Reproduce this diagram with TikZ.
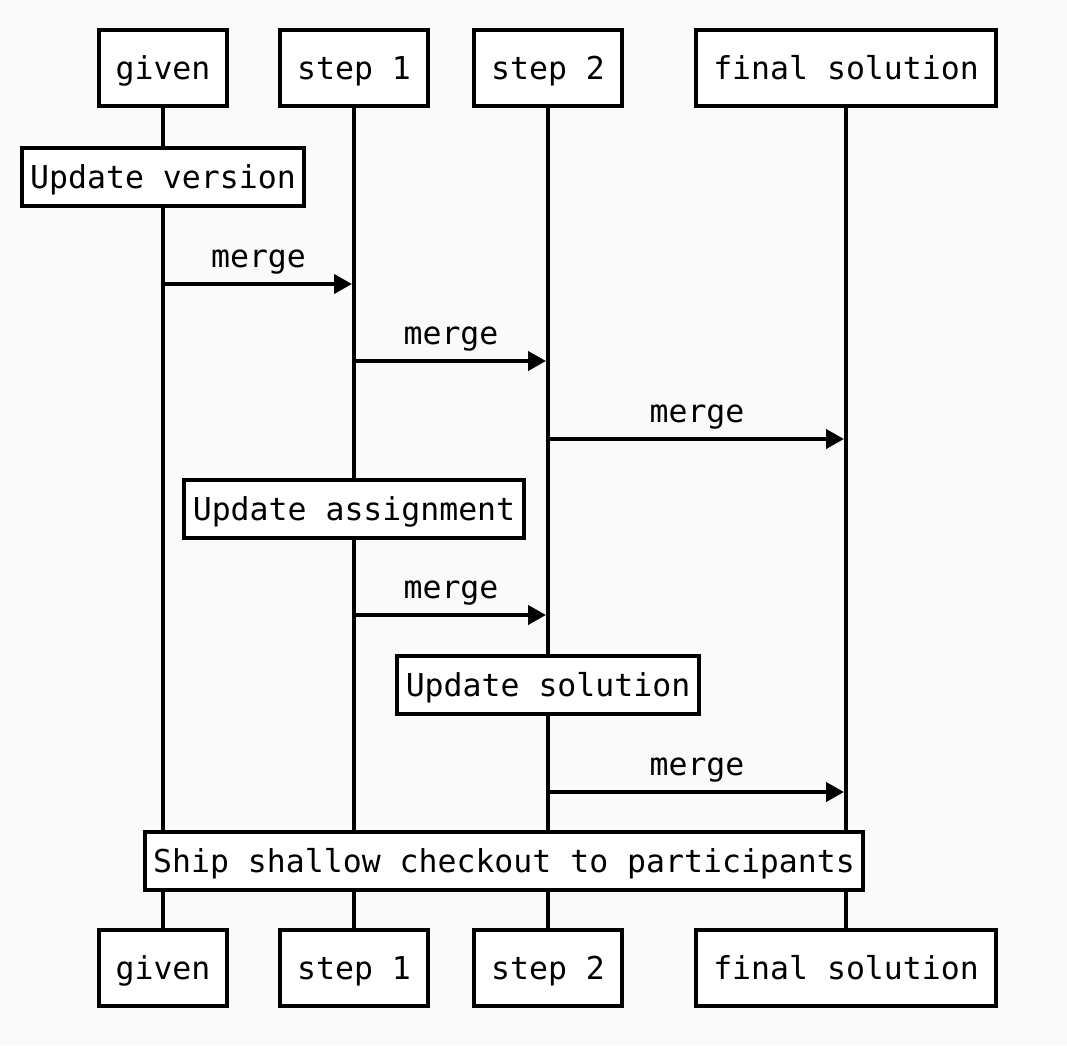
\documentclass[tikz,border=0pt]{standalone}
\usepackage{fontspec}
\setmonofont{DejaVu Sans Mono}
\usetikzlibrary{arrows.meta}

\begin{document}
\begin{tikzpicture}[x=1pt,y=-1pt,line width=4pt,
  every node/.style={font=\ttfamily\fontsize{31.5}{36}\selectfont},
  actor/.style={draw,fill=white,inner xsep=17pt,text height=26pt,text depth=3pt,minimum height=76pt},
  note/.style={draw,fill=white,inner xsep=8.5pt,text height=26pt,text depth=3pt,minimum height=58pt},
  msg/.style={-{Triangle[length=18pt,width=19pt]},shorten >=2pt},
  lbl/.style={midway,above=4pt,text height=22pt,text depth=7pt}]
  \fill[black!2] (0,0) rectangle (1067,1045);
  % participants, top and bottom
  \node[actor] (gT) at (163,68) {given};
  \node[actor] (s1T) at (354,68) {step 1};
  \node[actor] (s2T) at (548,68) {step 2};
  \node[actor] (fT) at (846,68) {final solution};
  \node[actor] (gB) at (163,968) {given};
  \node[actor] (s1B) at (354,968) {step 1};
  \node[actor] (s2B) at (548,968) {step 2};
  \node[actor] (fB) at (846,968) {final solution};
  % lifelines
  \foreach \a in {g,s1,s2,f} \draw (\a T) -- (\a B);
  % message rows
  \coordinate (m1) at (0,284);
  \coordinate (m2) at (0,361);
  \coordinate (m3) at (0,439);
  \coordinate (m4) at (0,615);
  \coordinate (m5) at (0,792);
  \node[note] (upv) at (163,177) {Update version};
  \draw[msg] (gT |- m1) -- (s1T |- m1) node[lbl] (l1) {merge};
  \draw[msg] (s1T |- m2) -- (s2T |- m2) node[lbl] (l2) {merge};
  \draw[msg] (s2T |- m3) -- (fT |- m3) node[lbl] (l3) {merge};
  \node[note] (upa) at (354,509) {Update assignment};
  \draw[msg] (s1T |- m4) -- (s2T |- m4) node[lbl] (l4) {merge};
  \node[note] (ups) at (548,685) {Update solution};
  \draw[msg] (s2T |- m5) -- (fT |- m5) node[lbl] (l5) {merge};
  \node[note] (ship) at (504,861) {Ship shallow checkout to participants};
\end{tikzpicture}
\end{document}
